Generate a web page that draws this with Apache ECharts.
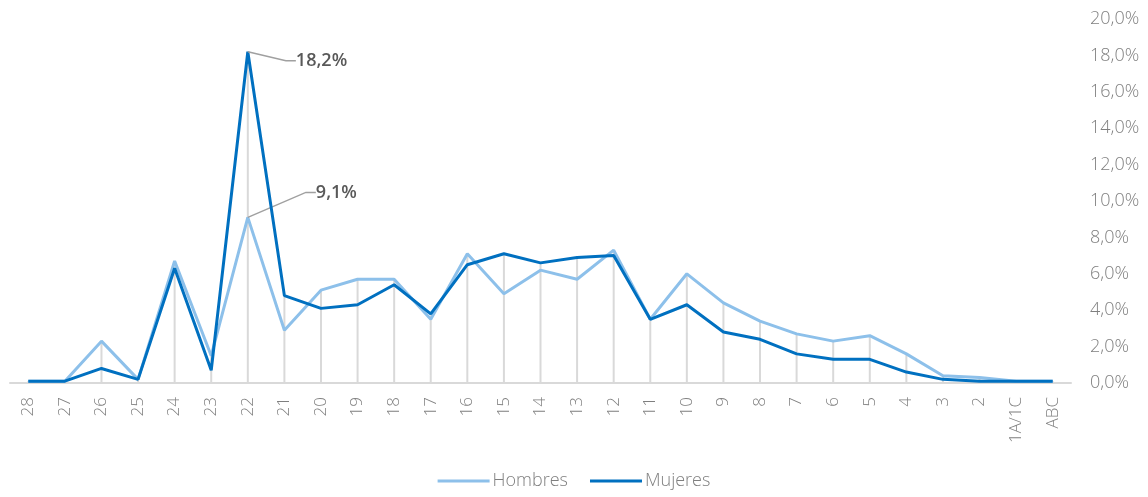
<!DOCTYPE html>
<html>
<head>
<meta charset="utf-8">
<script src="https://cdn.jsdelivr.net/npm/echarts@6/dist/echarts.min.js"></script>
<style>html,body{margin:0;padding:0;background:#fff}#c{width:1148px;height:497px}</style>
</head>
<body>
<div id="c"></div>
<script>
const categories = ['28','27','26','25','24','23','22','21','20','19','18','17','16','15','14','13','12','11','10','9','8','7','6','5','4','3','2','1A/1C','ABC'];
const hombres = [0.1,0.1,2.3,0.2,6.7,1.5,9.1,2.9,5.1,5.7,5.7,3.5,7.1,4.9,6.2,5.7,7.3,3.5,6.0,4.4,3.4,2.7,2.3,2.6,1.6,0.4,0.3,0.1,0.1];
const mujeres = [0.1,0.1,0.8,0.2,6.3,0.7,18.2,4.8,4.1,4.3,5.4,3.8,6.5,7.1,6.6,6.9,7.0,3.5,4.3,2.8,2.4,1.6,1.3,1.3,0.6,0.2,0.1,0.1,0.1];
const yTicks = {min: 0, max: 20, interval: 2};

const fmt = v => v.toFixed(1).replace('.', ',') + '%';
const peakIdx = arr => arr.indexOf(Math.max(...arr));
const drops = hombres.map((h, i) => Math.max(h, mujeres[i]));

function withPeakLabel(arr) {
  const p = peakIdx(arr);
  return arr.map((v, i) => i === p ? {
    value: v,
    label: {show: true},
    labelLine: {show: true}
  } : v);
}

const font = '"Open Sans", "Noto Sans", sans-serif';
const chart = echarts.init(document.getElementById('c'));
chart.setOption({
  animation: false,
  grid: {left: 10, right: 77, top: 19, bottom: 114, containLabel: false},
  legend: {
    bottom: 2,
    left: 'center',
    icon: 'rect',
    itemWidth: 52,
    itemHeight: 3,
    itemGap: 22,
    textStyle: {color: '#7f7f7f', fontSize: 18, fontFamily: font, fontWeight: 300, padding: [0, 0, 0, -2]},
    data: ['Hombres', 'Mujeres']
  },
  xAxis: {
    type: 'category',
    data: categories,
    boundaryGap: true,
    axisLine: {lineStyle: {color: '#d9d9d9', width: 2}},
    axisTick: {show: false},
    axisLabel: {rotate: 90, color: '#7f7f7f', fontSize: 17, fontFamily: font, fontWeight: 300, margin: 14, interval: 0}
  },
  yAxis: {
    type: 'value',
    position: 'right',
    min: yTicks.min, max: yTicks.max, interval: yTicks.interval,
    axisLine: {show: false},
    axisTick: {show: false},
    splitLine: {show: false},
    axisLabel: {color: '#7f7f7f', fontSize: 18, fontFamily: font, fontWeight: 300, margin: 19, formatter: v => fmt(v)}
  },
  series: [
    {
      name: 'drops',
      type: 'bar',
      data: drops,
      barWidth: 2,
      silent: true,
      itemStyle: {color: '#d9d9d9'},
      z: 1
    },
    {
      name: 'Hombres',
      type: 'line',
      data: withPeakLabel(hombres),
      symbol: 'circle',
      symbolSize: 0.1,
      showSymbol: true,
      lineStyle: {color: '#8dc0ea', width: 3},
      itemStyle: {color: '#8dc0ea'},
      label: {position: 'right', formatter: p => fmt(p.value), color: '#595959', fontSize: 18, fontWeight: 600, fontFamily: font},
      labelLine: {lineStyle: {color: '#a0a0a0', width: 1.5}, length2: 10},
      labelLayout: {dx: 63, dy: -25},
      z: 2
    },
    {
      name: 'Mujeres',
      type: 'line',
      data: withPeakLabel(mujeres),
      symbol: 'circle',
      symbolSize: 0.1,
      showSymbol: true,
      lineStyle: {color: '#0070c0', width: 3},
      itemStyle: {color: '#0070c0'},
      label: {position: 'right', formatter: p => fmt(p.value), color: '#595959', fontSize: 18, fontWeight: 600, fontFamily: font},
      labelLine: {lineStyle: {color: '#a0a0a0', width: 1.5}, length2: 10},
      labelLayout: {dx: 43, dy: 9},
      z: 3
    }
  ]
});
</script>
</body>
</html>
